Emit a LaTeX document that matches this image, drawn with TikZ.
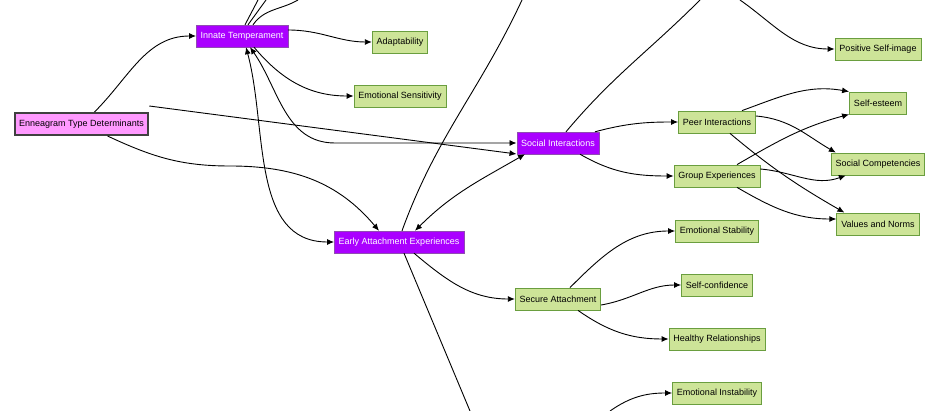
\documentclass[tikz,border=0pt]{standalone}
\usepackage{fontspec}
\setmainfont{Liberation Sans}
\usetikzlibrary{arrows.meta}
\definecolor{gfill}{HTML}{CDE498}
\definecolor{gdraw}{HTML}{6A9E3F}
\definecolor{pur}{HTML}{AA00FF}
\definecolor{pnk}{HTML}{FF99FF}
\begin{document}
\begin{tikzpicture}[x=1pt,y=-1pt,
  base/.style={draw,rectangle,minimum height=22pt,inner xsep=4.5pt,font=\fontsize{9}{11}\selectfont},
  leaf/.style={base,fill=gfill,draw=gdraw,line width=0.8pt},
  mid/.style={base,fill=pur,draw=gray!60!pur,text=white},
  root/.style={base,fill=pnk,draw=black!75,line width=2pt},
  e/.style={-{Latex[length=7pt,width=6pt]},line width=0.9pt},
  b/.style={{Latex[length=7pt,width=6pt]}-{Latex[length=7pt,width=6pt]},line width=0.9pt},
  l/.style={line width=0.9pt}]
\useasboundingbox (0,0) rectangle (940,411);
\node[root] (etd) at (81.5,124) {Enneagram Type Determinants};
\node[mid] (it) at (242,36) {Innate Temperament};
\node[mid] (si) at (558,143) {Social Interactions};
\node[mid] (eae) at (399,242) {Early Attachment Experiences};
\node[leaf] (ad) at (400,42) {Adaptability};
\node[leaf] (es) at (400,96) {Emotional Sensitivity};
\node[leaf] (pi) at (717,122) {Peer Interactions};
\node[leaf] (ge) at (717,176) {Group Experiences};
\node[leaf] (psi) at (878,49) {Positive Self-image};
\node[leaf] (se) at (878,103) {Self-esteem};
\node[leaf] (sc) at (878,164) {Social Competencies};
\node[leaf] (vn) at (878,224) {Values and Norms};
\node[leaf] (est) at (717,231) {Emotional Stability};
\node[leaf] (scf) at (717,285) {Self-confidence};
\node[leaf] (hr) at (717,339) {Healthy Relationships};
\node[leaf] (sa) at (558,299) {Secure Attachment};
\node[leaf] (ei) at (717,393) {Emotional Instability};
\coordinate (t1) at (258,0); \coordinate (t2) at (266,0); \coordinate (t3) at (298,0);
\coordinate (t4) at (522,0); \coordinate (t5) at (700,0); \coordinate (t6) at (740,0);
\coordinate (b1) at (470,411); \coordinate (b2) at (610,411);

\draw[e] ([xshift=13pt]etd.north) to[out=45,in=180] (it.west);
\draw[e] ([yshift=6pt]etd.north east) -- ([yshift=-11pt]si.west);
\draw[e] ([xshift=26pt]etd.south) to[out=-25,in=180] (230,166) to[out=0,in=130] ([xshift=-20pt]eae.north);
\draw[e] ([yshift=6pt]it.east) to[out=0,in=180] (ad.west);
\draw[e] ([xshift=12pt]it.south) to[out=-50,in=180] (es.west);
\draw[b] ([xshift=4pt]it.south) to[out=-75,in=180] (eae.west);
\draw[b] ([xshift=8pt]it.south) to[out=-55,in=180] (335,143) -- (si.west);
\draw[l] ([xshift=3pt]it.north) -- (t1);
\draw[l] ([xshift=6pt]it.north) -- (t2);
\draw[l] ([xshift=11pt]it.north) to[out=55,in=210] (t3);
\draw[l] ([xshift=3pt]eae.north) to[out=70,in=-115] (t4);
\draw[b] ([xshift=-33pt]si.south) to[out=-150,in=45] ([xshift=16pt]eae.north);
\draw[l] ([xshift=8pt]si.north) to[out=50,in=-135] (t5);
\draw[e] (t6) to[out=-35,in=180] (psi.west);
\draw[e] ([xshift=37pt]si.north) to[out=15,in=180] (pi.west);
\draw[e] ([xshift=22pt]si.south) to[out=-30,in=180] (ge.west);
\draw[e] ([xshift=25pt]pi.north) to[out=20,in=170] (se.north west);
\draw[e] ([yshift=6pt]pi.east) to[out=-5,in=150] ([xshift=5pt]sc.north west);
\draw[e] ([xshift=13pt]pi.south) to[out=-40,in=150] ([xshift=8pt]vn.north west);
\draw[e] ([xshift=20pt]ge.north) to[out=30,in=195] (se.south west);
\draw[e] ([yshift=7pt]ge.east) to[out=-5,in=200] ([xshift=15pt]sc.south west);
\draw[e] ([xshift=20pt]ge.south) to[out=-30,in=180] ([yshift=5pt]vn.west);
\draw[e] ([xshift=15pt]eae.south) to[out=-40,in=180] (sa.west);
\draw[l] ([xshift=5pt]eae.south) -- (b1);
\draw[e] ([xshift=12pt]sa.north) to[out=45,in=180] (est.west);
\draw[e] ([yshift=-6pt]sa.east) to[out=10,in=180] (scf.west);
\draw[e] ([xshift=20pt]sa.south) to[out=-35,in=180] (hr.west);
\draw[e] (b2) to[out=35,in=180] (ei.west);
\end{tikzpicture}
\end{document}
